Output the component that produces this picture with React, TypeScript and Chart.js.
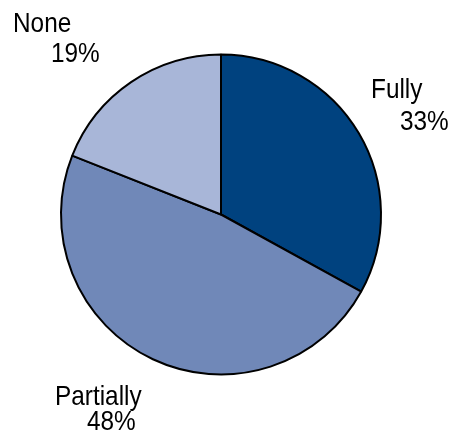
import React, { useEffect, useRef } from "react";
import { Chart, registerables } from "chart.js";

Chart.register(...registerables);

const categories = ["Fully", "Partially", "None"];
const shares = [33, 48, 19];
const valueLabels = ["33%", "48%", "19%"];
const sliceColors = ["#00427F", "#7088B8", "#A8B6D8"];

// label placement relative to pie center, in pixels: [nameX, nameBaseline, valueX, valueBaseline]
const labelOffsets = [
  [150, -117, 179, -85],
  [-166, 190, -134, 215],
  [-208, -183, -170, -153],
];

const labelPlugin = {
  id: "sliceLabels",
  afterDraw(chart: any) {
    const ctx = chart.ctx;
    const meta = chart.getDatasetMeta(0);
    const arc = meta.data[0];
    const cx = arc.x;
    const cy = arc.y;
    ctx.save();
    ctx.fillStyle = "#000000";
    ctx.font = "28px 'Liberation Sans', Arial, sans-serif";
    ctx.textAlign = "left";
    ctx.textBaseline = "alphabetic";
    const sx = 0.87;
    categories.forEach((name, i) => {
      const o = labelOffsets[i];
      ctx.save();
      ctx.translate(cx + o[0], cy + o[1]);
      ctx.scale(sx, 1);
      ctx.fillText(name, 0, 0);
      ctx.restore();
      ctx.save();
      ctx.translate(cx + o[2], cy + o[3]);
      ctx.scale(sx, 1);
      ctx.fillText(valueLabels[i], 0, 0);
      ctx.restore();
    });
    ctx.restore();
  },
};

export default function App() {
  const ref = useRef<HTMLCanvasElement | null>(null);
  useEffect(() => {
    if (!ref.current) return;
    const chart = new Chart(ref.current, {
      type: "pie",
      data: {
        labels: categories,
        datasets: [
          {
            data: shares,
            backgroundColor: sliceColors,
            borderColor: "#000000",
            borderWidth: 2,
            borderAlign: "center",
          },
        ],
      },
      options: {
        responsive: false,
        animation: false,
        layout: { padding: { left: 60, right: 74, top: 53.5, bottom: 59.5 } },
        plugins: {
          legend: { display: false },
          tooltip: { enabled: false },
        },
      },
      plugins: [labelPlugin],
    });
    return () => chart.destroy();
  }, []);
  return (
    <div style={{ position: "absolute", left: 0, top: 0, width: 456, height: 435, background: "#ffffff" }}>
      <canvas ref={ref} width={456} height={435} />
    </div>
  );
}
